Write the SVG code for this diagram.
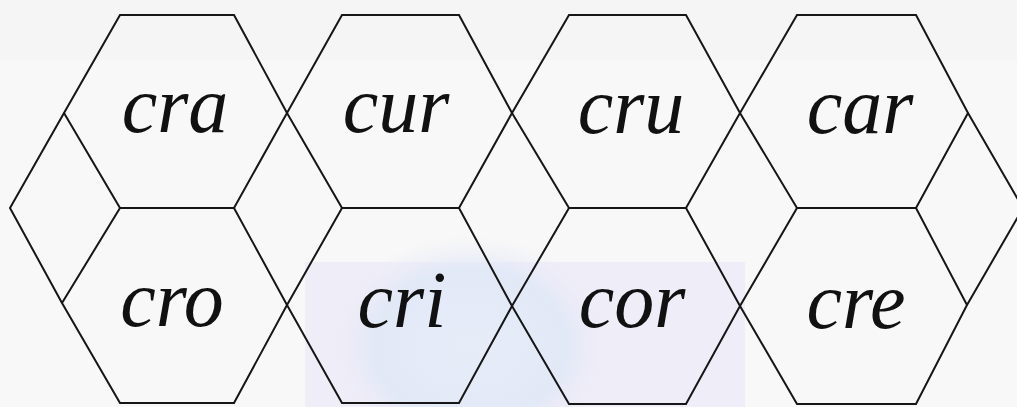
<svg xmlns="http://www.w3.org/2000/svg" width="1017" height="407" viewBox="0 0 1017 407">
  <defs>
    <radialGradient id="wm" cx="0.5" cy="0.5" r="0.5">
      <stop offset="0" stop-color="#e6ecf8" stop-opacity="0.9"/>
      <stop offset="0.7" stop-color="#dfe8f6" stop-opacity="0.8"/>
      <stop offset="1" stop-color="#ecebf7" stop-opacity="0"/>
    </radialGradient>
  </defs>
  <style>
    .hex { fill: none; stroke: #161616; stroke-width: 2; stroke-linejoin: miter; }
    .line { fill: none; stroke: #161616; stroke-width: 2; }
    .lbl { font-family: "Liberation Serif", "DejaVu Serif", serif; font-style: italic; font-size: 80px; fill: #111111; text-anchor: middle; }
  </style>
  <rect x="0" y="0" width="1017" height="407" fill="#f5f5f5"/>
  <rect x="0" y="60" width="1017" height="347" fill="#f8f8f8"/>
  <rect x="305" y="262" width="440" height="145" fill="#eceaf8" opacity="0.8"/>
  <ellipse cx="470" cy="345" rx="140" ry="110" fill="url(#wm)"/>

  <g id="hex-cra">
    <polygon class="hex" points="120,15 234,15 287,113 234,208 120,208 64,113"/>
    <text class="lbl" x="175" y="132">cra</text>
  </g>
  <g id="hex-cur">
    <polygon class="hex" points="342,15 459,15 512,113 459,208 342,208 287,113"/>
    <text class="lbl" x="396" y="132">cur</text>
  </g>
  <g id="hex-cru">
    <polygon class="hex" points="569,15 686,15 740,113 686,208 569,208 512,113"/>
    <text class="lbl" x="631" y="133">cru</text>
  </g>
  <g id="hex-car">
    <polygon class="hex" points="797,15 916,15 968,113 916,208 797,208 740,113"/>
    <text class="lbl" x="860" y="133">car</text>
  </g>
  <g id="hex-cro">
    <polygon class="hex" points="120,208 234,208 287,305 234,403 120,403 62,303"/>
    <text class="lbl" x="172" y="326">cro</text>
  </g>
  <g id="hex-cri">
    <polygon class="hex" points="342,208 459,208 512,306 459,403 342,403 287,305"/>
    <text class="lbl" x="402" y="327">cri</text>
  </g>
  <g id="hex-cor">
    <polygon class="hex" points="569,208 686,208 740,306 686,404 569,404 512,306"/>
    <text class="lbl" x="632" y="327">cor</text>
  </g>
  <g id="hex-cre">
    <polygon class="hex" points="797,208 916,208 967,305 916,404 797,404 740,306"/>
    <text class="lbl" x="856" y="328">cre</text>
  </g>

  <g id="connectors">
    <polyline class="line" points="64,113 10,208 62,303"/>
    <polyline class="line" points="968,113 1023,208 967,305"/>
  </g>
</svg>
